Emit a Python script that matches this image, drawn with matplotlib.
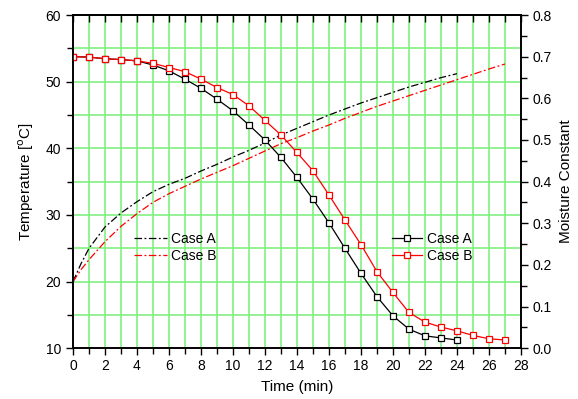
import numpy as np
import matplotlib
matplotlib.use('Agg')
import matplotlib.pyplot as plt
from matplotlib.ticker import MultipleLocator, FormatStrFormatter, NullFormatter

plt.rcParams['font.family'] = ['Liberation Sans', 'DejaVu Sans']

# temperature (left axis), dash-dot curves
t_temp_a = [0, 0.5, 1, 2, 3, 4, 5, 6, 7, 8, 9, 10, 11, 12, 13, 14, 15, 16,
            17, 18, 19, 20, 21, 22, 23, 24]
temp_a = [20.0, 22.7, 25.0, 28.2, 30.3, 32.0, 33.5, 34.6, 35.5, 36.6, 37.6,
          38.7, 39.7, 40.8, 42.0, 43.0, 44.0, 45.0, 45.9, 46.8, 47.6, 48.4,
          49.2, 49.9, 50.6, 51.2]
t_temp_b = [0, 0.5, 1, 2, 3, 4, 5, 6, 7, 8, 9, 10, 11, 12, 13, 14, 15, 16,
            17, 18, 19, 20, 21, 22, 23, 24, 25, 26, 27]
temp_b = [20.0, 21.8, 23.3, 26.0, 28.3, 30.2, 31.9, 33.2, 34.3, 35.4, 36.4,
          37.4, 38.5, 39.6, 40.7, 41.6, 42.6, 43.5, 44.5, 45.4, 46.3, 47.1,
          47.9, 48.7, 49.5, 50.3, 51.1, 51.9, 52.65]

# moisture constant (right axis), square markers
t_moist_a = list(range(0, 25))
moist_a = [0.700, 0.699, 0.695, 0.693, 0.690, 0.680, 0.666, 0.646, 0.624,
           0.598, 0.570, 0.536, 0.500, 0.458, 0.410, 0.358, 0.301, 0.240,
           0.180, 0.124, 0.078, 0.046, 0.030, 0.025, 0.020]
t_moist_b = list(range(0, 28))
moist_b = [0.700, 0.699, 0.695, 0.693, 0.690, 0.684, 0.674, 0.664, 0.646,
           0.626, 0.609, 0.582, 0.547, 0.512, 0.470, 0.426, 0.368, 0.308,
           0.249, 0.184, 0.134, 0.086, 0.063, 0.051, 0.042, 0.031, 0.023,
           0.020]

grid_green = '#80f080'

fig = plt.figure(figsize=(5.78, 3.99), dpi=100)
ax = fig.add_axes([0.1263, 0.127, 0.775, 0.8354])
ax2 = ax.twinx()

# green grid
for x in range(1, 28):
    ax.axvline(x, color=grid_green, lw=1.2, zorder=0)
for y in range(15, 60, 5):
    ax.axhline(y, color=grid_green, lw=1.2, zorder=0)

dashdot = (0, (6, 2, 1.5, 2))
la, = ax.plot(t_temp_a, temp_a, color='black', lw=0.9, linestyle=dashdot, zorder=3)
lb, = ax.plot(t_temp_b, temp_b, color='red', lw=0.9, linestyle=dashdot, zorder=3)

ma, = ax2.plot(t_moist_a, moist_a, color='black', lw=0.9, marker='s', ms=4.2,
               mfc='white', mec='black', mew=0.9)
mb, = ax2.plot(t_moist_b, moist_b, color='red', lw=0.9, marker='s', ms=4.2,
               mfc='white', mec='red', mew=0.9)

ax.set_xlim(0, 28)
ax.set_ylim(10, 60)
ax2.set_ylim(0, 0.8)

ax.xaxis.set_major_locator(MultipleLocator(2))
ax.xaxis.set_minor_locator(MultipleLocator(1))
ax.yaxis.set_major_locator(MultipleLocator(10))
ax.yaxis.set_minor_locator(MultipleLocator(5))
ax2.yaxis.set_major_locator(MultipleLocator(0.1))
ax2.yaxis.set_minor_locator(MultipleLocator(0.05))
ax2.yaxis.set_major_formatter(FormatStrFormatter('%.1f'))

ax.tick_params(axis='x', which='both', direction='out', top=False, labelsize=10,
               pad=3)
ax.tick_params(axis='x', which='major', length=5, width=1)
ax.tick_params(axis='x', which='minor', length=4, width=1)
ax.tick_params(axis='y', which='major', direction='out', length=5, width=1,
               labelsize=10, right=False)
ax.tick_params(axis='y', which='minor', direction='out', length=4, width=1,
               right=False)
ax2.tick_params(axis='y', which='major', direction='out', length=5, width=1,
                labelsize=10)
ax2.tick_params(axis='y', which='minor', direction='out', length=4, width=1)

# top ticks point inwards, no labels
top = ax.secondary_xaxis('top')
top.xaxis.set_major_locator(MultipleLocator(1))
top.xaxis.set_major_formatter(NullFormatter())
top.tick_params(direction='in', length=5, width=1)
top.spines['top'].set_linewidth(1.2)

for a in (ax, ax2):
    for s in a.spines.values():
        s.set_linewidth(1.2)

ax.set_xlabel('Time (min)', fontsize=11, labelpad=5)
ax.set_ylabel('Temperature [$^{\\mathrm{o}}$C]', fontsize=11, labelpad=7)
ax2.set_ylabel('Moisture Constant', fontsize=11, labelpad=5)

leg1 = ax.legend([la, lb], ['Case A', 'Case B'], loc='center left',
                 bbox_to_anchor=(0.136, 0.302), frameon=False, fontsize=10,
                 handlelength=2.4, handletextpad=0.25, labelspacing=0.2,
                 borderpad=0, borderaxespad=0)
leg2 = ax2.legend([ma, mb], ['Case A', 'Case B'], loc='center left',
                  bbox_to_anchor=(0.712, 0.302), frameon=False, fontsize=10,
                  handlelength=2.2, handletextpad=0.3, labelspacing=0.2,
                  borderpad=0, borderaxespad=0, numpoints=1)

fig.savefig('out.png', dpi=100)
